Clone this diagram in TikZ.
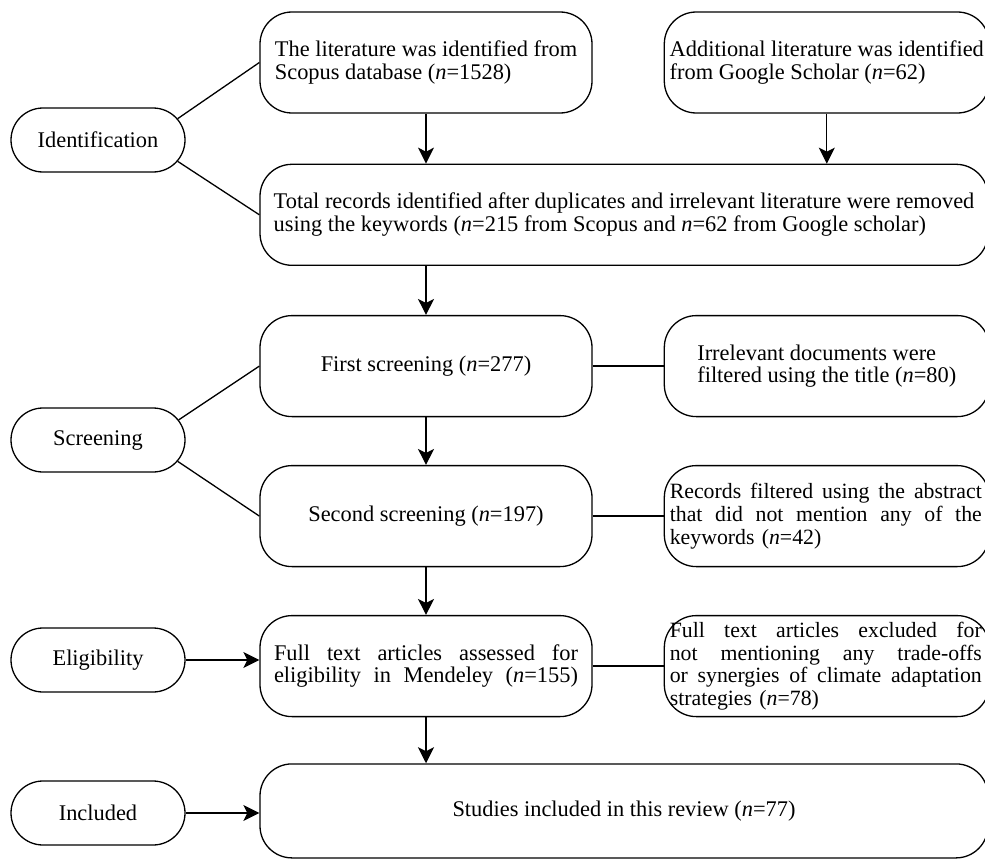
\documentclass[tikz,border=0pt]{standalone}
\usepackage{fontspec}
\setmainfont{Liberation Serif}
\usetikzlibrary{arrows.meta,positioning,shapes.misc}

\newcommand{\nn}{\textit{n}}
\newcommand{\fillline}[2]{\leavevmode\hbox to #1{\spaceskip=0.25em plus 1em minus 0.06em\relax #2}}

\begin{document}
\begin{tikzpicture}[x=1pt, y=1pt, node distance=48pt, line width=1.3pt,
    every node/.style={font=\fontsize{22.4}{22.7}\selectfont},
    box/.style={draw, rounded corners=32pt, minimum width=332pt, minimum height=101pt, inner sep=0pt},
    sidebox/.style={box, minimum width=325pt},
    widebox/.style={box, minimum width=728pt},
    tightbox/.style={sidebox, text width=314pt, align=left, font=\fontsize{21.8}{22.7}\selectfont},
    stage/.style={draw, rounded rectangle, minimum width=174pt, minimum height=64pt, inner sep=0pt},
    arr/.style={-{Stealth[length=16pt, width=16pt, inset=4pt]}}]
    \useasboundingbox (0,0) rectangle (985,-859);
    \node[stage] (ident) at (98,-140) {Identification};
    \node[stage] (screen) at (98,-440) {Screening};
    \node[stage] (elig) at (98,-660) {Eligibility};
    \node[stage] (incl) at (98,-813) {Included};

    \node[box, align=left] (scopus) at (426,-62.5) {The literature was identified from\\Scopus database (\nn=1528)};
    \node[sidebox, align=left] (scholar) [right=71pt of scopus] {Additional literature was identified\\from Google Scholar (\nn=62)};
    \node[widebox, align=left] (total) [below=50pt of scopus.south west, anchor=north west] {Total records identified after duplicates and irrelevant literature were removed\\using the keywords (\nn=215 from Scopus and \nn=62 from Google scholar)};
    \node[box] (first) [below=49pt of total.south west, anchor=north west] {First screening (\nn=277)};
    \node[sidebox, align=left] (title) [right=71pt of first] {Irrelevant documents were\\filtered using the title (\nn=80)};
    \node[box] (second) [below of=first, node distance=150pt] {Second screening (\nn=197)};
    \node[tightbox] (abstract) [right=71pt of second] {\fillline{312pt}{Records filtered using the abstract}\\\fillline{312pt}{that did not mention any of the}\\keywords (\nn=42)};
    \node[box, text width=304pt, align=left] (fulltext) [below of=second, node distance=150pt] {\fillline{304pt}{Full text articles assessed for}\\\fillline{304pt}{eligibility in Mendeley (\nn=155)}};
    \node[tightbox] (excluded) [right=71pt of fulltext] {\fillline{312pt}{Full text articles excluded for}\\\fillline{312pt}{not mentioning any trade-offs}\\\fillline{312pt}{or synergies of climate adaptation}\\strategies (\nn=78)};
    \node[widebox, minimum height=94pt] (studies) [below=46pt of fulltext.south west, anchor=north west] {Studies included in this review (\nn=77)};

    \draw (ident.15) -- (scopus.west);
    \draw (ident.-15) -- (total.west);
    \draw (screen.14) -- (first.west);
    \draw (screen.-15) -- (second.west);
    \draw[arr] (scopus.south) -- (scopus.south |- total.north);
    \draw[arr] (scholar.south) -- (scholar.south |- total.north);
    \draw[arr] (first.north |- total.south) -- (first.north);
    \draw[arr] (first) -- (second);
    \draw[arr] (second) -- (fulltext);
    \draw[arr] (fulltext.south) -- (fulltext.south |- studies.north);
    \draw[arr] (elig.east) -- (elig.east -| fulltext.west);
    \draw[arr] (incl.east) -- (incl.east -| studies.west);
    \path (first) edge (title)
          (second) edge (abstract)
          (fulltext) edge (excluded);
\end{tikzpicture}
\end{document}
